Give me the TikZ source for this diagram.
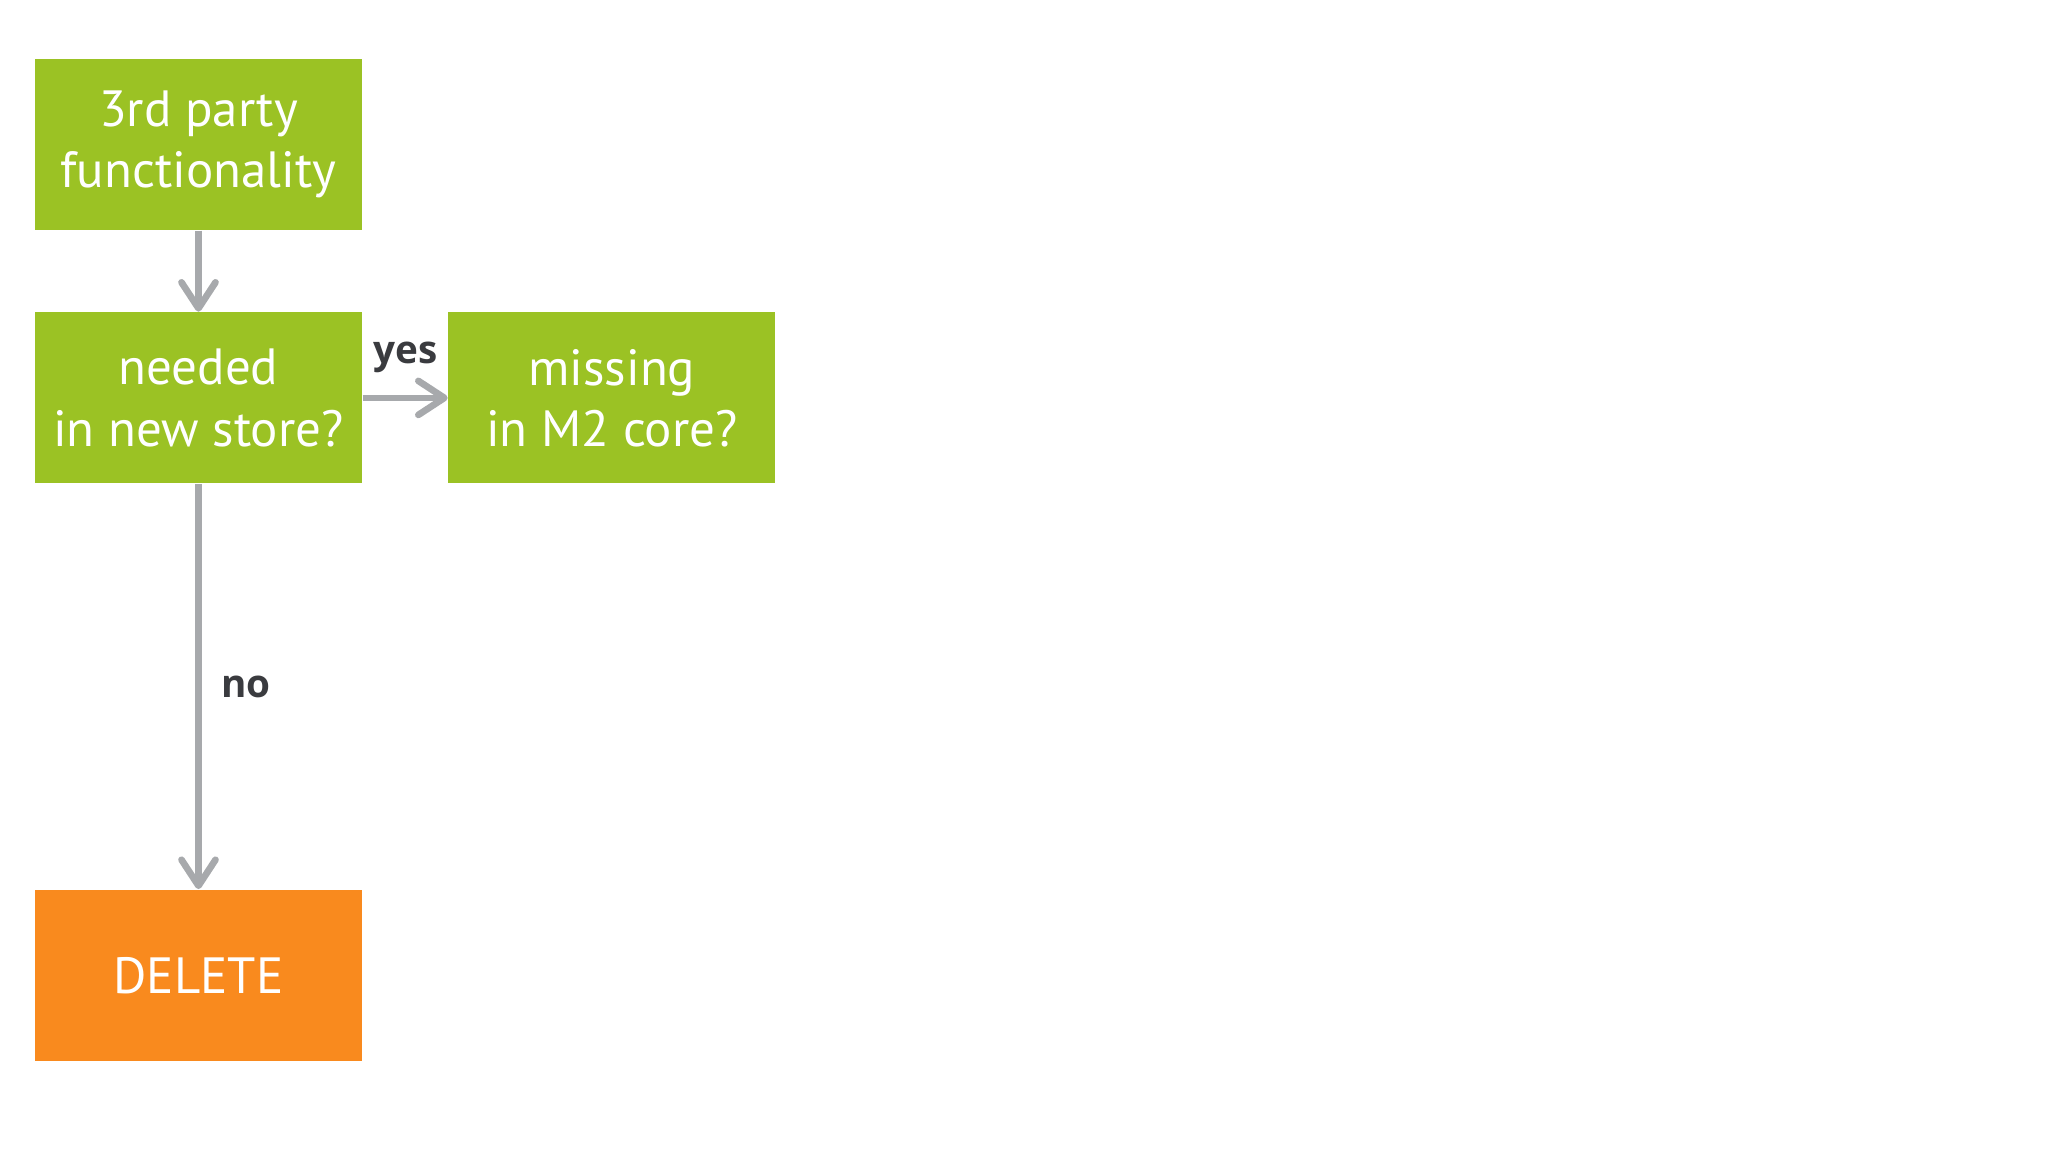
\documentclass[tikz,border=0pt]{standalone}
\usepackage{fontspec}
\setmainfont{PT Sans}
\newfontfamily\lblfont{Open Sans}
\usetikzlibrary{arrows.meta,positioning}
\definecolor{mgreen}{HTML}{9BC224}
\definecolor{morange}{HTML}{F98A1E}
\definecolor{mgray}{HTML}{A7A9AC}
\definecolor{mtext}{HTML}{3A3B3F}
\tikzstyle{gb}=[rectangle,minimum width=3.27cm,minimum height=1.71cm,inner sep=0pt,fill=mgreen,text=white,align=center,font=\fontsize{14.5}{17.4}\selectfont]
\tikzstyle{ob}=[gb,fill=morange]
\tikzstyle{flow}=[draw=mgray,line width=1.9pt,-{Straight Barb[length=2.6mm,width=3.4mm,line cap=round,line join=round]}]
\tikzstyle{lbl}=[text=mtext,font=\lblfont\bfseries\fontsize{11}{13}\selectfont]

\begin{document}
\begin{tikzpicture}
    \useasboundingbox[fill=white] (0,0) rectangle (20.48,-11.53);
    \node (third) [gb] at (1.985,-1.445) {3rd party\\functionality};
    \node (needed) [gb,below=8.1mm of third] {needed\\in new store?};
    \node (missing) [gb,right=8.5mm of needed] {missing\\in M2 core?};
    \node (delete) [ob,below=40.5mm of needed] {DELETE};

    \draw[flow] (third) -- (needed);
    \draw[flow] (needed) -- node[lbl,above=1mm] {yes} (missing);
    \draw[flow] (needed) -- node[lbl,right=0.8mm] {no} (delete);
\end{tikzpicture}
\end{document}
